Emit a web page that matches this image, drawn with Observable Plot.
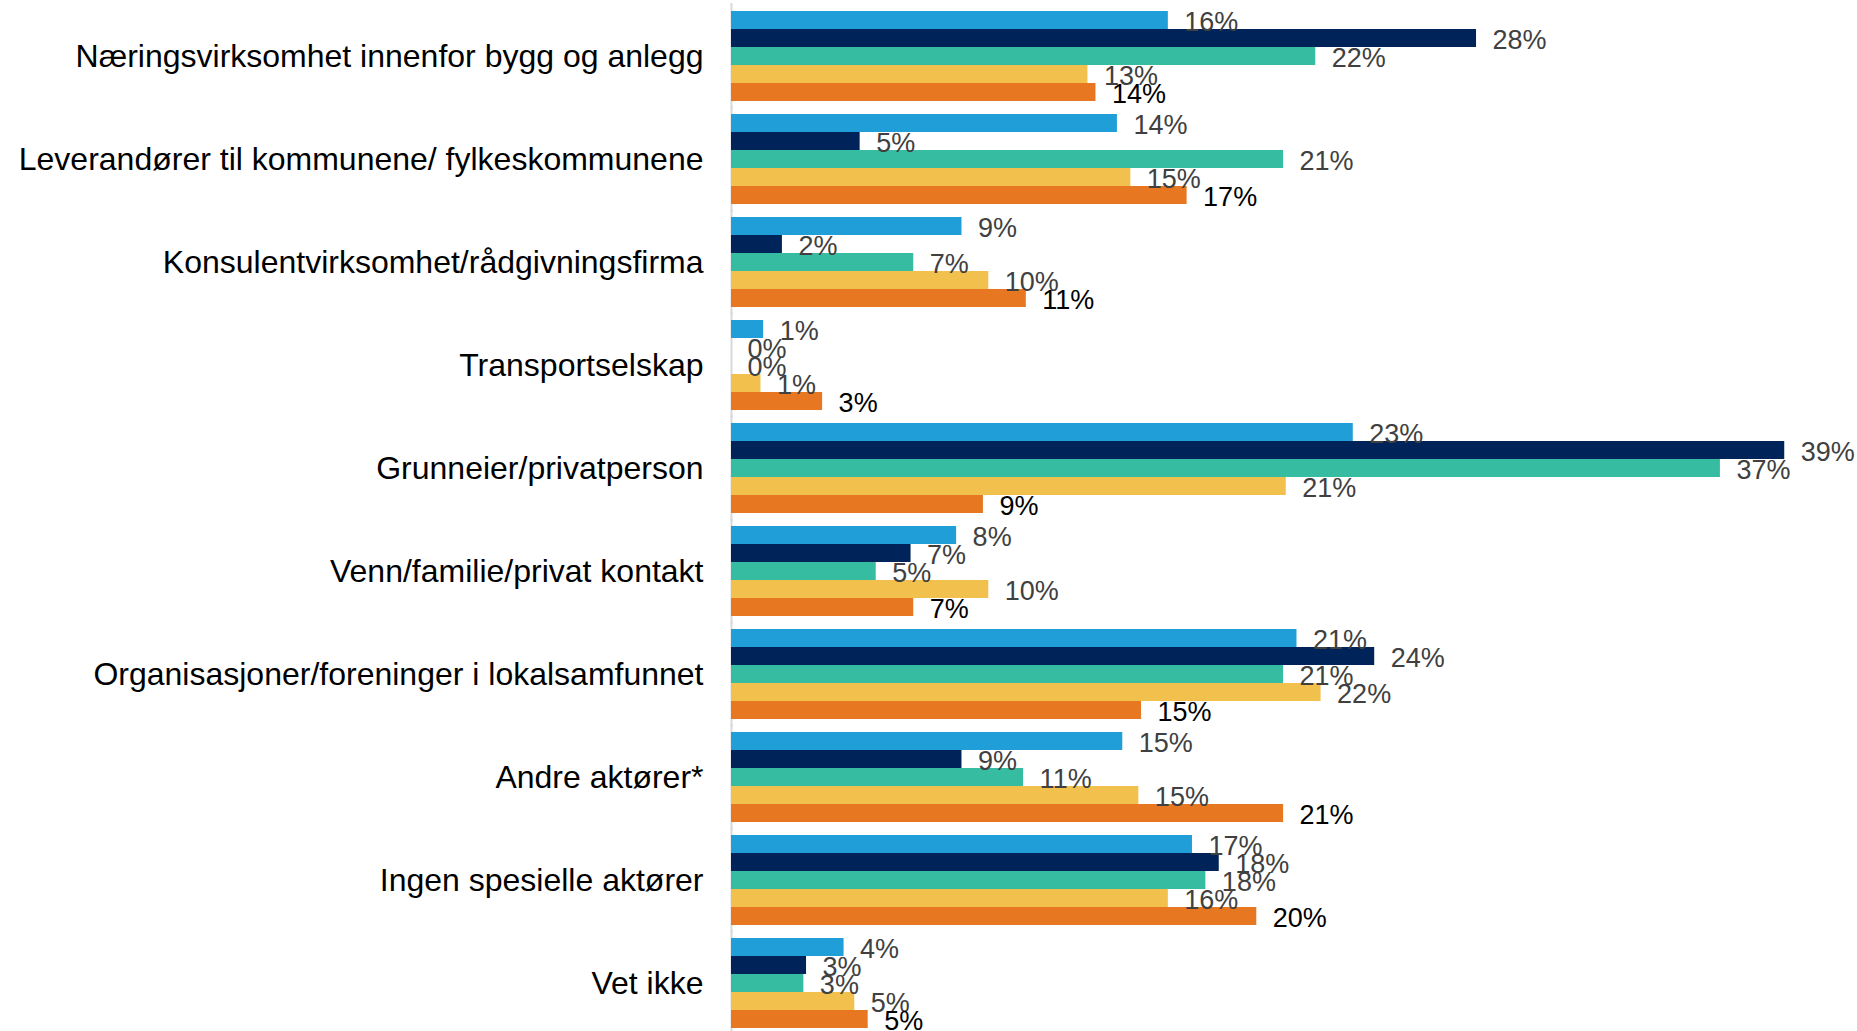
<!DOCTYPE html>
<html>
<head>
<meta charset="utf-8">
<script src="https://cdn.jsdelivr.net/npm/d3@7"></script>
<script src="https://cdn.jsdelivr.net/npm/@observablehq/plot@0.6"></script>
<style>
  html, body { margin: 0; padding: 0; background: #ffffff; overflow: hidden; }
  #chart { width: 1857px; height: 1031px; }
</style>
</head>
<body>
<div id="chart"></div>
<script>
const categories = [
  "Næringsvirksomhet innenfor bygg og anlegg",
  "Leverandører til kommunene/ fylkeskommunene",
  "Konsulentvirksomhet/rådgivningsfirma",
  "Transportselskap",
  "Grunneier/privatperson",
  "Venn/familie/privat kontakt",
  "Organisasjoner/foreninger i lokalsamfunnet",
  "Andre aktører*",
  "Ingen spesielle aktører",
  "Vet ikke"
];

const seriesNames = ["Serie 1", "Serie 2", "Serie 3", "Serie 4", "Serie 5"];
const seriesColors = ["#209ed8", "#00245a", "#36bca0", "#f2c04c", "#e87722"];

// Percent values per series, in category order
const serie1 = [16.3, 14.4, 8.6, 1.2, 23.2, 8.4, 21.1, 14.6, 17.2, 4.2];
const serie2 = [27.8, 4.8, 1.9, 0, 39.3, 6.7, 24.0, 8.6, 18.2, 2.8];
const serie3 = [21.8, 20.6, 6.8, 0, 36.9, 5.4, 20.6, 10.9, 17.7, 2.7];
const serie4 = [13.3, 14.9, 9.6, 1.1, 20.7, 9.6, 22.0, 15.2, 16.3, 4.6];
const serie5 = [13.6, 17.0, 11.0, 3.4, 9.4, 6.8, 15.3, 20.6, 19.6, 5.1];

const seriesValues = [serie1, serie2, serie3, serie4, serie5];

const data = [];
categories.forEach((c, i) => {
  seriesNames.forEach((s, j) => {
    data.push({category: c, series: s, value: seriesValues[j][i]});
  });
});

const lastSeries = seriesNames[seriesNames.length - 1];

const chart = Plot.plot({
  width: 1857,
  height: 1031,
  marginLeft: 731,
  marginRight: 54,
  marginTop: 10,
  marginBottom: 3,
  style: {fontFamily: "'Liberation Sans', Arial, sans-serif", fontSize: "32px", color: "#000", background: "#fff"},
  x: {domain: [0, 40], axis: null},
  y: {domain: seriesNames, axis: null, paddingInner: 0, paddingOuter: 0},
  fy: {domain: categories, axis: "left", paddingInner: 0.13, paddingOuter: 0, label: null, tickSize: 0, tickPadding: 28},
  color: {domain: seriesNames, range: seriesColors},
  marks: [
    Plot.ruleX([0], {stroke: "#d9d9d9", strokeWidth: 2, insetTop: -8, insetBottom: -8}),
    Plot.barX(data, {x: "value", y: "series", fy: "category", fill: "series"}),
    Plot.text(data, {
      x: "value", y: "series", fy: "category",
      text: d => Math.round(d.value) + "%",
      textAnchor: "start", dx: 16, dy: 2,
      fontSize: 27,
      fill: d => d.series === lastSeries ? "#000000" : "#404040"
    })
  ]
});

document.getElementById("chart").appendChild(chart);
</script>
</body>
</html>
